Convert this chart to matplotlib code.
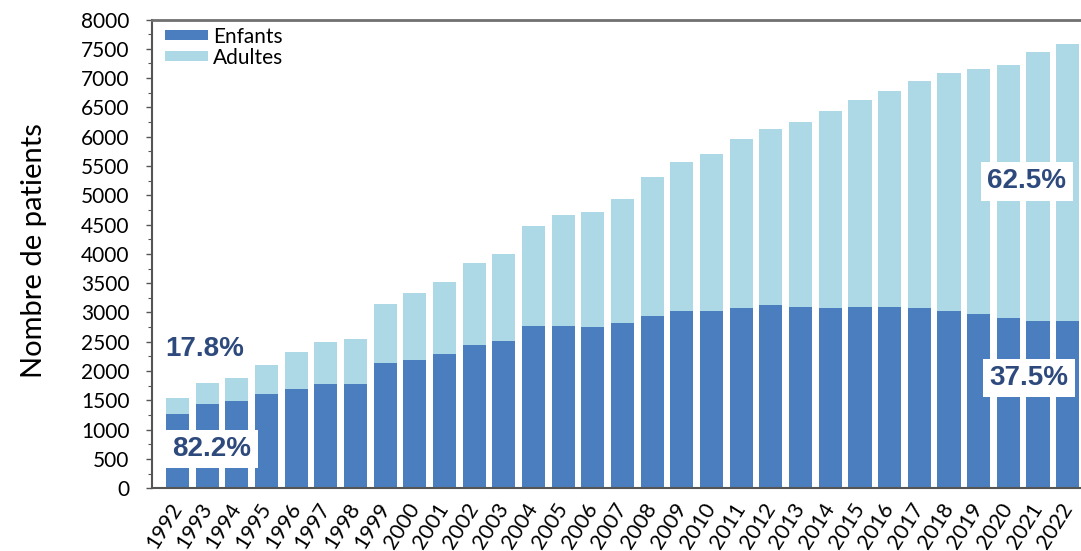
import matplotlib
matplotlib.use('Agg')
import matplotlib.pyplot as plt
from matplotlib.ticker import MultipleLocator
from matplotlib.transforms import ScaledTranslation

# données
annees = [str(a) for a in range(1992, 2023)]
enfants = [1270, 1431, 1482, 1612, 1698, 1778, 1778, 2131, 2183, 2291,
           2444, 2507, 2769, 2775, 2746, 2815, 2940, 3020, 3020, 3071,
           3122, 3094, 3071, 3100, 3094, 3071, 3020, 2974, 2911, 2855, 2850]
adultes = [274, 369, 404, 485, 632, 712, 775, 1020, 1150, 1236,
           1402, 1498, 1715, 1885, 1964, 2114, 2364, 2541, 2689, 2889,
           3015, 3151, 3362, 3532, 3692, 3874, 4062, 4182, 4319, 4585, 4740]
yticks = list(range(0, 8001, 500))

# annotations : texte, position x (index de barre), valeur y, fond blanc
annot_textes = ["17.8%", "82.2%", "62.5%", "37.5%"]
annot_x = [0.93, 1.16, 28.63, 28.7]
annot_y = [2376, 667, 5236, 1880]
annot_fond = [False, True, True, True]

plt.rcParams['font.family'] = ['Lato', 'DejaVu Sans']

fig = plt.figure(figsize=(10.81, 5.51), dpi=100)
ax = fig.add_axes([0.1403, 0.1138, 0.8597, 0.8508])

x = list(range(len(annees)))
ax.bar(x, enfants, width=0.78, color='#4a7ebf', label='Enfants')
ax.bar(x, adultes, width=0.78, bottom=enfants, color='#add8e6', label='Adultes')

ax.set_xlim(-0.87, 30.45)
ax.set_ylim(0, 8000)
ax.set_yticks(yticks)
ax.yaxis.set_minor_locator(MultipleLocator(250))
ax.set_xticks(x)
ax.set_xticklabels(annees, rotation=58, ha='right', va='center',
                   rotation_mode='anchor')
# décalage des étiquettes vers la gauche
decal = ScaledTranslation(-13 / 100, 0, fig.dpi_scale_trans)
for lab in ax.get_xticklabels():
    lab.set_transform(lab.get_transform() + decal)

ax.tick_params(axis='y', which='major', labelsize=15, length=4, width=1,
               color='#555555', pad=12)
ax.tick_params(axis='y', which='minor', length=3, width=0.8, color='#555555')
ax.tick_params(axis='x', labelsize=15.5, length=0, pad=12)

ax.set_ylabel("Nombre de patients", fontsize=21)
ax.yaxis.set_label_coords(-0.113, 0.508)

for s in ['left', 'bottom']:
    ax.spines[s].set_color('#555555')
    ax.spines[s].set_linewidth(1.5)
ax.spines['top'].set_color('#707070')
ax.spines['top'].set_linewidth(2)
ax.spines['right'].set_visible(False)

ax.legend(loc='upper left', bbox_to_anchor=(0.0143, 0.985), frameon=False,
          fontsize=15, handlelength=2.07, handleheight=0.4, handletextpad=0.25,
          labelspacing=0.05, borderpad=0, borderaxespad=0)

for texte, xa, ya, fond in zip(annot_textes, annot_x, annot_y, annot_fond):
    bbox = dict(boxstyle='square,pad=0.22', fc='white', ec='none') if fond else None
    ax.text(xa, ya, texte, fontsize=20, fontweight='bold', color='#2e4a7d',
            family='Liberation Sans', ha='center', va='center', bbox=bbox)

fig.savefig('out.png', dpi=100)
